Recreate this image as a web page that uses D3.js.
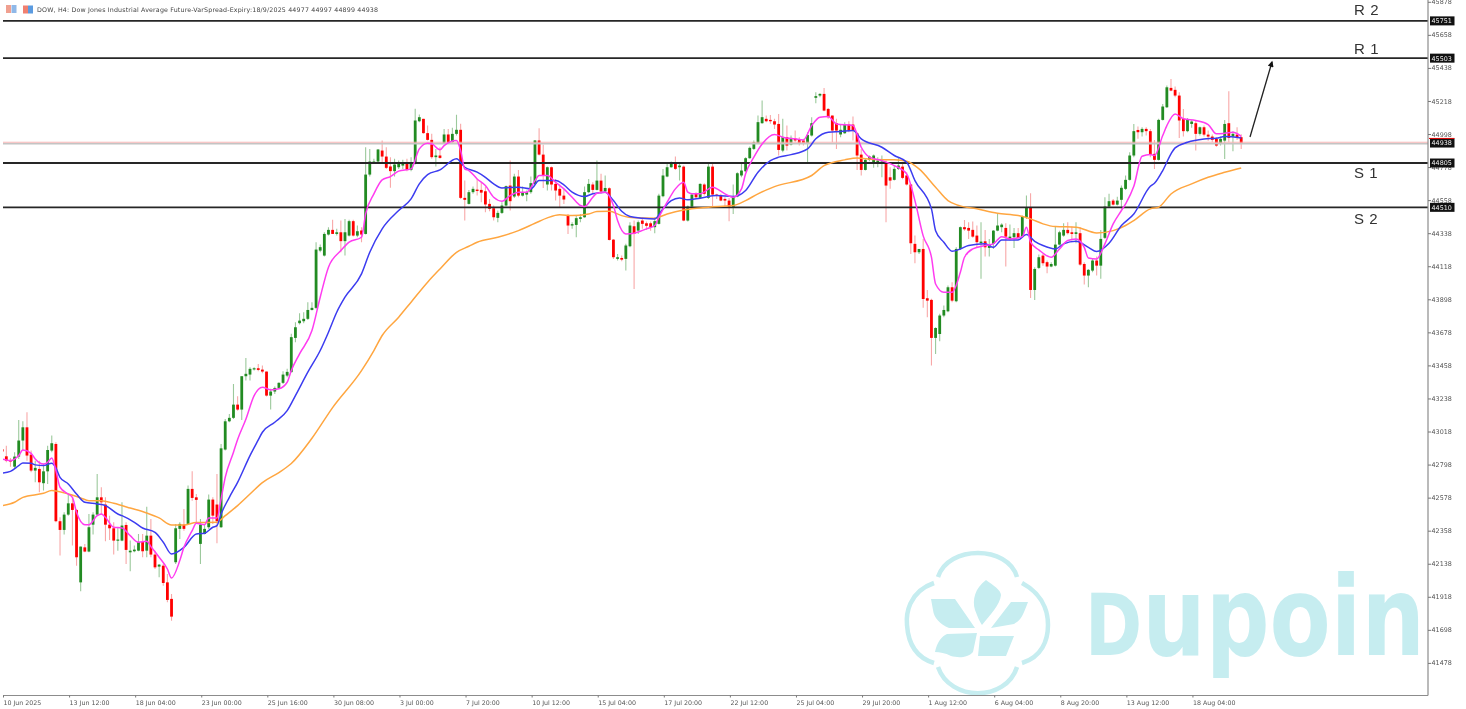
<!DOCTYPE html>
<html><head><meta charset="utf-8">
<script src="https://cdnjs.cloudflare.com/ajax/libs/d3/7.8.5/d3.min.js"></script>
<style>
html,body{margin:0;padding:0;background:#fff;overflow:hidden}
svg{display:block;filter:blur(0.45px)}
text{font-family:"DejaVu Sans",sans-serif}
</style></head><body>
<svg id="c" width="1466" height="709"></svg>
<script>
const priceTicks=[45878,45658,45438,45218,44998,44778,44558,44338,44118,43898,43678,43458,43238,43018,42798,42578,42358,42138,41918,41698,41478];
const timeLabels=["10 Jun 2025","13 Jun 12:00","18 Jun 04:00","23 Jun 00:00","25 Jun 16:00","30 Jun 08:00","3 Jul 00:00","7 Jul 20:00","10 Jul 12:00","15 Jul 04:00","17 Jul 20:00","22 Jul 12:00","25 Jul 04:00","29 Jul 20:00","1 Aug 12:00","6 Aug 04:00","8 Aug 20:00","13 Aug 12:00","18 Aug 04:00"];
const timeTickBars=[0,16,32,48,64,80,96,112,128,144,160,176,192,208,224,240,256,272,288];
const opens=[42900,42853,42829,42784,42851,42958,43046,42864,42758,42769,
42674,42753,42891,42935,42421,42363,42465,42540,42496,42014,
42247,42219,42398,42465,42580,42532,42398,42374,42292,42292,
42396,42214,42221,42225,42283,42225,42325,42199,42119,42125,
42014,41904,42148,42370,42398,42403,42636,42580,42270,42336,
42381,42565,42532,42381,42898,43086,43109,43197,43164,43386,
43397,43435,43439,43430,43417,43257,43284,43308,43342,43390,
43413,43641,43739,43752,43768,43827,43841,44222,44189,44329,
44360,44333,44344,44285,44322,44418,44322,44356,44333,44728,
44804,44815,44888,44848,44782,44751,44777,44788,44799,44759,
44799,45083,45099,45004,44959,44844,44855,44937,44995,44944,
44999,45026,44573,44533,44611,44628,44626,44617,44533,44504,
44440,44473,44522,44655,44582,44715,44588,44595,44611,44666,
44955,44861,44662,44777,44666,44633,44588,44455,44389,44393,
44433,44444,44611,44662,44626,44688,44617,44637,44295,44167,
44173,44167,44251,44384,44355,44422,44404,44404,44378,44400,
44584,44715,44777,44799,44777,44781,44422,44515,44600,44573,
44662,44573,44781,44595,44588,44566,44555,44511,44582,44722,
44750,44837,44899,44937,45070,45099,45092,45083,45065,44888,
44977,44928,44968,44959,44955,44932,44988,45239,45254,45265,
45165,45121,45070,44995,45003,45061,45061,45003,44861,44759,
44826,44810,44810,44804,44804,44710,44693,44766,44781,44722,
44662,44267,44211,44233,43905,43894,43641,43667,43790,43818,
43978,43885,44233,44378,44373,44360,44322,44271,44284,44240,
44267,44355,44378,44373,44293,44311,44338,44315,44444,44506,
43960,44107,44189,44145,44116,44122,44262,44322,44360,44344,
44333,44338,44133,44056,44089,44156,44122,44307,44515,44555,
44528,44560,44633,44693,44855,45025,45010,45032,45017,44866,
44826,45092,45176,45305,45292,45254,45099,45017,45065,45070,
44999,45043,44994,44981,44966,44932,44954,45070,44981,44994,44977];
const highs=[42925,42924,42842,42880,43095,43086,43146,42891,42824,42824,
42802,42924,42991,42946,42447,42480,42602,42580,42503,42252,
42270,42469,42480,42736,42647,42580,42458,42414,42381,42547,
42414,42292,42259,42336,42336,42518,42436,42225,42137,42137,
42070,41937,42403,42414,42503,42658,42753,42602,42436,42403,
42598,42580,42736,42935,43102,43135,43335,43253,43386,43508,
43446,43446,43468,43457,43417,43302,43317,43346,43419,43435,
43668,43745,43805,43812,43878,43878,44278,44262,44344,44378,
44427,44367,44422,44433,44427,44427,44389,44378,44910,44899,
44833,44899,44955,44910,44844,44833,44822,44826,44833,44844,
45166,45128,45099,45055,44999,44899,44910,45032,45032,45039,
45126,45066,44688,44626,44648,44699,44677,44648,44566,44522,
44489,44544,44655,44821,44733,44759,44648,44622,44715,44959,
45037,44926,44781,44781,44699,44662,44633,44466,44411,44455,
44466,44648,44699,44677,44821,44733,44722,44644,44300,44200,
44189,44267,44411,44422,44422,44433,44415,44415,44444,44600,
44766,44810,44815,44848,44810,44788,44522,44604,44611,44671,
44671,44799,44799,44600,44600,44577,44573,44662,44744,44799,
44844,44915,44955,45121,45221,45121,45125,45099,45132,45099,
45054,44988,45021,44977,44966,45010,45110,45276,45270,45305,
45172,45121,45099,45065,45077,45083,45114,45010,44899,44839,
44855,44861,44844,44855,44821,44777,44788,44844,44799,44744,
44666,44322,44233,44300,43960,43901,43712,43801,43856,43989,
44011,44244,44382,44426,44411,44415,44389,44411,44360,44300,
44360,44466,44404,44404,44395,44373,44373,44455,44588,44604,
44111,44196,44200,44156,44145,44382,44355,44404,44411,44382,
44411,44378,44145,44100,44167,44182,44360,44577,44600,44566,
44580,44655,44722,44877,45065,45048,45043,45043,45032,44959,
45099,45198,45321,45365,45314,45276,45165,45105,45090,45088,
45048,45054,45021,44994,44977,44981,45092,45283,45017,45043,44997];
const lows=[42880,42813,42784,42776,42835,42891,42824,42747,42680,42614,
42625,42669,42880,42414,42192,42332,42458,42259,42125,41955,
42214,42214,42332,42458,42465,42287,42296,42199,42225,42287,
42137,42088,42214,42221,42181,42181,42181,42103,42048,41992,
41881,41759,42137,42303,42358,42398,42558,42403,42137,42332,
42370,42403,42274,42376,42891,43080,43102,43157,43095,43357,
43357,43424,43419,43406,43251,43164,43268,43302,43335,43379,
43413,43612,43730,43739,43761,43823,43834,44211,44182,44322,
44333,44322,44211,44189,44316,44316,44311,44278,44329,44715,
44799,44810,44810,44766,44640,44715,44766,44766,44751,44751,
44795,45077,44999,44955,44833,44782,44833,44933,44933,44937,
44988,44566,44422,44529,44600,44588,44544,44477,44484,44422,
44411,44466,44515,44489,44573,44577,44582,44551,44600,44662,
44855,44639,44622,44622,44555,44511,44533,44333,44367,44311,
44411,44440,44604,44600,44622,44600,44611,44289,44167,44156,
44151,44089,44245,43967,44333,44367,44360,44355,44338,44395,
44577,44710,44773,44759,44688,44418,44415,44511,44566,44566,
44588,44566,44515,44566,44551,44515,44418,44466,44577,44710,
44744,44833,44892,44932,45066,45077,45066,45032,44855,44877,
44888,44921,44943,44921,44921,44810,44981,45203,45243,45150,
45099,44943,44899,44977,44999,45010,44955,44759,44722,44755,
44817,44773,44777,44710,44411,44633,44688,44759,44697,44655,
44200,44138,44200,43841,43778,43457,43534,43619,43778,43812,
43878,43878,44227,44355,44300,44307,44244,44034,44182,44182,
44233,44351,44344,44116,44289,44240,44293,44311,44433,43907,
43894,44100,44122,44071,44111,44116,44256,44315,44329,44289,
44271,44122,43996,43978,44078,44056,44034,44300,44511,44522,
44522,44500,44626,44688,44843,44966,44981,44988,44843,44766,
44821,45088,45172,45283,45243,44972,44981,45010,45040,44888,
44988,44981,44954,44943,44914,44921,44832,44943,44883,44959,44899];
const closes=[42885,42824,42818,42851,42958,43046,42858,42758,42776,42680,
42753,42895,42940,42421,42363,42465,42540,42496,42181,42252,
42219,42381,42465,42580,42547,42398,42374,42292,42299,42392,
42230,42225,42232,42283,42221,42325,42199,42114,42132,42010,
41897,41786,42374,42403,42370,42636,42576,42563,42398,42370,
42565,42458,42421,42906,43086,43109,43197,43164,43386,43402,
43435,43439,43428,43417,43257,43284,43308,43342,43397,43415,
43646,43712,43756,43768,43827,43841,44229,44245,44333,44360,
44333,44344,44285,44344,44418,44322,44351,44329,44728,44815,
44815,44895,44848,44773,44751,44795,44799,44804,44759,44804,
45088,45110,45004,44959,44844,44855,44839,44995,44937,44999,
45026,44573,44560,44611,44633,44619,44608,44529,44500,44444,
44473,44522,44651,44551,44715,44588,44611,44611,44671,44955,
44861,44722,44777,44662,44622,44588,44562,44389,44398,44438,
44444,44611,44666,44626,44688,44615,44639,44293,44178,44178,
44162,44256,44389,44333,44411,44400,44387,44378,44418,44588,
44722,44777,44799,44766,44788,44422,44515,44595,44577,44666,
44600,44781,44595,44586,44555,44555,44511,44582,44737,44755,
44837,44906,44943,45077,45110,45083,45083,45061,44892,44977,
44921,44972,44955,44937,44932,44992,45070,45250,45265,45154,
45110,45021,45021,45026,45061,45021,45021,44855,44759,44826,
44848,44855,44821,44815,44655,44688,44766,44788,44706,44662,
44271,44211,44233,43900,43889,43641,43707,43790,43827,43978,
43889,44233,44378,44364,44355,44315,44278,44282,44244,44260,
44355,44389,44395,44315,44315,44338,44307,44449,44506,43960,
44100,44178,44138,44116,44133,44262,44344,44360,44338,44333,
44344,44129,44056,44094,44156,44122,44300,44515,44551,44528,
44555,44640,44693,44855,45017,45010,45032,45017,44861,44826,
45092,45181,45309,45287,45254,45088,45017,45092,45081,44999,
45043,44994,44981,44959,44921,44966,45065,44972,44999,44972,44938];
const fastBars=[0,2,4,5,7,8,10,11,12,13,14,16,17,18,20,21,23,24,25,27,29,31,33,35,36,38,40,41,43,44,46,47,49,50,52,53,54,56,57,59,61,63,65,67,69,70,72,75,77,79,82,84,87,88,90,92,94,96,99,101,103,104,106,107,110,111,112,113,115,117,119,121,123,125,127,129,130,132,134,136,138,140,141,143,144,146,148,149,151,153,156,158,159,161,163,165,166,167,169,172,175,177,179,180,182,184,187,189,192,194,196,198,200,202,206,208,210,213,216,219,221,223,225,226,228,230,232,233,235,238,240,242,244,247,248,249,251,254,256,258,260,262,263,265,267,269,271,272,274,276,278,279,281,282,284,286,289,292,294,296,298,300];
const fastMA=[42835,42824,42858,42895,42873,42835,42802,42813,42842,42758,42647,42602,42580,42480,42398,42398,42458,42469,42447,42381,42376,42325,42281,42287,42252,42181,42103,42043,42159,42247,42358,42407,42398,42443,42443,42569,42713,42880,42965,43100,43257,43313,43295,43302,43346,43424,43535,43690,43912,44112,44222,44278,44311,44467,44600,44693,44715,44751,44766,44899,44937,44933,44893,44921,44955,44888,44766,44755,44699,44655,44577,44551,44588,44611,44611,44688,44722,44722,44677,44633,44577,44522,44515,44577,44604,44611,44522,44422,44333,44338,44367,44389,44444,44544,44633,44677,44611,44600,44600,44644,44600,44577,44633,44733,44844,44932,44995,44977,44966,44959,45054,45110,45114,45065,45054,44910,44844,44821,44788,44733,44555,44320,44178,44000,43945,43945,44078,44178,44233,44256,44267,44315,44300,44315,44378,44278,44227,44178,44233,44289,44300,44244,44173,44167,44267,44400,44489,44533,44650,44850,44861,44855,44988,45054,45132,45099,45088,45061,44999,45003,45010,44983];
const midBars=[0,2,4,5,7,8,10,12,13,14,16,18,20,23,25,28,29,32,34,37,39,41,44,47,49,51,52,53,55,57,60,62,63,66,69,71,74,77,79,81,83,87,89,92,96,99,101,103,106,110,112,115,117,119,121,125,128,130,134,136,138,141,143,146,148,150,152,155,158,160,162,164,166,169,173,177,180,183,186,188,191,195,197,200,203,206,208,213,216,219,221,225,226,228,230,232,234,238,240,242,246,248,250,252,255,257,260,263,265,268,271,274,278,279,281,283,284,287,291,294,296,300];
const midMA=[42742,42753,42791,42809,42807,42796,42791,42807,42776,42713,42669,42602,42547,42536,42525,42469,42458,42414,42376,42347,42281,42203,42247,42336,42341,42381,42392,42469,42580,42680,42858,42962,43013,43080,43157,43257,43413,43557,43679,43812,43912,44067,44211,44367,44489,44566,44666,44728,44759,44833,44777,44744,44710,44666,44639,44644,44633,44688,44688,44659,44611,44582,44600,44611,44555,44484,44449,44438,44433,44500,44555,44573,44560,44571,44588,44582,44622,44744,44821,44844,44861,44899,44966,45010,45015,45021,44966,44910,44855,44810,44688,44500,44355,44278,44218,44233,44256,44267,44244,44293,44293,44329,44284,44256,44233,44267,44284,44244,44216,44271,44389,44466,44650,44670,44755,44866,44906,44943,44965,44970,44981,44972];
const slowBars=[0,3,5,10,12,16,19,21,24,27,31,35,38,41,44,47,52,54,57,60,63,67,70,75,80,87,90,92,96,99,103,106,110,113,115,120,125,129,132,135,138,142,144,147,150,153,158,161,165,171,177,180,183,187,196,199,204,207,211,216,219,222,226,229,231,236,241,246,249,252,255,260,265,269,272,274,278,280,283,288,292,296,300];
const slowMA=[42525,42547,42580,42607,42625,42602,42576,42558,42558,42540,42509,42476,42443,42396,42396,42412,42414,42458,42525,42602,42678,42745,42805,42973,43177,43423,43557,43657,43779,43879,44012,44100,44211,44251,44278,44311,44355,44404,44440,44460,44455,44466,44482,44484,44455,44440,44438,44466,44493,44511,44522,44555,44600,44648,44722,44788,44826,44839,44828,44826,44817,44766,44644,44555,44528,44500,44471,44455,44433,44400,44382,44378,44340,44355,44389,44422,44500,44511,44599,44666,44710,44743,44772];
const levelValues=[45751,45503,44805,44510];
const levelNames=["R 2","R 1","S 1","S 2"];
const lastPrice=44938;

const svg=d3.select("#c");
const x=d3.scaleLinear().domain([0,300]).range([2.2,1241.2]);
const y=d3.scaleLinear().domain([41478,45878]).range([662.9,1.8]);
const plotL=3,plotR=1428,plotB=695.5;
svg.append("defs").append("clipPath").attr("id","plot").append("rect").attr("x",plotL).attr("y",0).attr("width",plotR-plotL).attr("height",plotB);

/* watermark */
const wm=svg.append("g");
const wmColor="#c6edf0";
["M934,583 C908,592 906,615 907,625 C908,640 914,657 934,663",
 "M938,577 C948,545 1008,545 1017,577",
 "M1022,583 C1048,597 1048,620 1048,625 C1048,640 1042,657 1022,663",
 "M938,667 C950,702 1006,702 1017,667"].forEach(d=>wm.append("path").attr("d",d).attr("fill","none").attr("stroke",wmColor).attr("stroke-width",4.5));
["M986,580 C975,588 972,600 975,610 C978,618 980,622 982,625 C990,615 1000,605 1001,595 C1001,590 993,585 986,580Z",
 "M931,599 L955,599 L975,628 L949,628 C940,624 934,618 933,610Z",
 "M1011,602 L1028,602 C1024,612 1022,620 1014,624 L991,628Z",
 "M947,634 L977,633 L973,652 C968,658 958,658 951,656 C945,653 940,652 935,652 C937,642 942,636 947,634Z",
 "M980,636 L1014,636 L1006,656 L978,656Z"].forEach(d=>wm.append("path").attr("d",d).attr("fill",wmColor));
const wt=wm.append("text").attr("fill",wmColor).attr("font-weight",700).attr("font-size",110);
wt.append("tspan").attr("font-size",85).text("D");
wt.append("tspan").text("upoin");
const wtScale=340/wt.node().getComputedTextLength();
wt.attr("transform",`translate(1085,655) scale(${wtScale},1)`);

/* candles */
const bars=d3.range(opens.length);
const isUp=i=>closes[i]>=opens[i];
const chart=svg.append("g").attr("clip-path","url(#plot)");
chart.selectAll("line.w").data(bars).join("line").attr("class","w")
 .attr("x1",i=>x(i)).attr("x2",i=>x(i)).attr("y1",i=>y(highs[i])).attr("y2",i=>y(lows[i]))
 .attr("stroke",i=>isUp(i)?"#9cc99c":"#f8a8a8").attr("stroke-width",1.1);
chart.selectAll("rect.b").data(bars).join("rect").attr("class","b")
 .attr("x",i=>x(i)-1.4).attr("width",2.8)
 .attr("y",i=>y(Math.max(opens[i],closes[i])))
 .attr("height",i=>Math.max(1.2,Math.abs(y(opens[i])-y(closes[i]))))
 .attr("fill",i=>isUp(i)?"#228b22":"#ff0000");

/* levels */
chart.append("line").attr("x1",plotL).attr("x2",plotR).attr("y1",y(lastPrice)-0.8).attr("y2",y(lastPrice)-0.8).attr("stroke","#f6b4b4").attr("stroke-width",1.2);
chart.append("line").attr("x1",plotL).attr("x2",plotR).attr("y1",y(lastPrice)+0.7).attr("y2",y(lastPrice)+0.7).attr("stroke","#c4c4c4").attr("stroke-width",1.3);
chart.selectAll("line.lv").data(levelValues).join("line").attr("class","lv")
 .attr("x1",plotL).attr("x2",plotR).attr("y1",d=>y(d)).attr("y2",d=>y(d)).attr("stroke","#262626").attr("stroke-width",1.9);

/* moving averages */
const maLine=d3.line().x(d=>x(d[0])).y(d=>y(d[1])).curve(d3.curveMonotoneX);
[[slowBars,slowMA,"#ffa640"],[midBars,midMA,"#3c3cf0"],[fastBars,fastMA,"#ff3cf0"]].forEach(([b,v,c])=>{
  chart.append("path").attr("d",maLine(d3.zip(b,v))).attr("fill","none").attr("stroke",c).attr("stroke-width",1.5);
});

/* level names */
const nameX=[1354,1354,1354,1354],nameY=[15,54,178,224];
levelNames.forEach((t,i)=>svg.append("text").attr("x",nameX[i]).attr("y",nameY[i]).style("font-family","'Liberation Sans'").attr("font-size",15).attr("letter-spacing",0.6).attr("fill","#333").text(t));

/* arrow */
svg.append("defs").append("marker").attr("id","ah").attr("viewBox","0 0 10 10").attr("refX",8).attr("refY",5).attr("markerWidth",8).attr("markerHeight",6).attr("markerUnits","userSpaceOnUse").attr("orient","auto")
  .append("path").attr("d","M0,0L10,5L0,10Z").attr("fill","#111");
svg.append("line").attr("x1",1250).attr("y1",137).attr("x2",1272).attr("y2",62).attr("stroke","#222").attr("stroke-width",1.3).attr("marker-end","url(#ah)");

/* frame + axes */
svg.append("line").attr("x1",plotR).attr("x2",plotR).attr("y1",0).attr("y2",plotB).attr("stroke","#8c8c8c").attr("stroke-width",1.2);
svg.append("line").attr("x1",plotL).attr("x2",plotR).attr("y1",plotB).attr("y2",plotB).attr("stroke","#8c8c8c").attr("stroke-width",1.2);
const ya=svg.append("g").attr("transform",`translate(${plotR},0)`).call(d3.axisRight(y).tickValues(priceTicks).tickSize(3).tickPadding(0.5).tickFormat(d3.format("d")));
ya.select(".domain").remove();
ya.selectAll("line").attr("stroke","#777");
ya.selectAll("text").attr("font-size",6.4).attr("fill","#555").style("font-family","'DejaVu Sans'");
const xa=svg.append("g").attr("transform",`translate(0,${plotB})`).call(d3.axisBottom(x).tickValues(timeTickBars).tickSize(2).tickPadding(3).tickFormat((d,i)=>timeLabels[i]));
xa.select(".domain").remove();
xa.selectAll("line").attr("stroke","#777").attr("transform","translate(0.8,0)");
xa.selectAll("text").attr("text-anchor","start").attr("dx",0.8).attr("font-size",6.3).attr("fill","#555").style("font-family","'DejaVu Sans'");

/* price badges */
const badges=[...levelValues,lastPrice];
const bg=svg.append("g").selectAll("g").data(badges).join("g").attr("transform",d=>`translate(1430,${y(d)})`);
bg.append("rect").attr("x",0).attr("y",-4.5).attr("width",24.5).attr("height",9).attr("fill","#111");
bg.append("text").attr("x",1.5).attr("y",2.4).attr("font-size",6.4).attr("fill","#eee").style("font-family","'DejaVu Sans'").text(d=>d);
svg.append("line").attr("x1",1429).attr("x2",1454.5).attr("y1",y(lastPrice)-4.6).attr("y2",y(lastPrice)-4.6).attr("stroke","#e00000").attr("stroke-width",1);

/* header */
const hd=svg.append("g");
[[6,"#f0a090"],[11.5,"#8fb8e8"]].forEach(([px,c])=>hd.append("rect").attr("x",px).attr("y",5).attr("width",5).attr("height",8).attr("fill",c));
[[23,"#f08070"],[28,"#5b9be0"]].forEach(([px,c])=>hd.append("rect").attr("x",px).attr("y",5.5).attr("width",5).attr("height",8).attr("fill",c));
hd.append("text").attr("x",37).attr("y",12).attr("font-size",6.3).attr("fill","#444").attr("textLength",341).attr("lengthAdjust","spacing")
  .text("DOW, H4:  Dow Jones Industrial Average Future-VarSpread-Expiry:18/9/2025  44977 44997 44899 44938");
</script></body></html>
